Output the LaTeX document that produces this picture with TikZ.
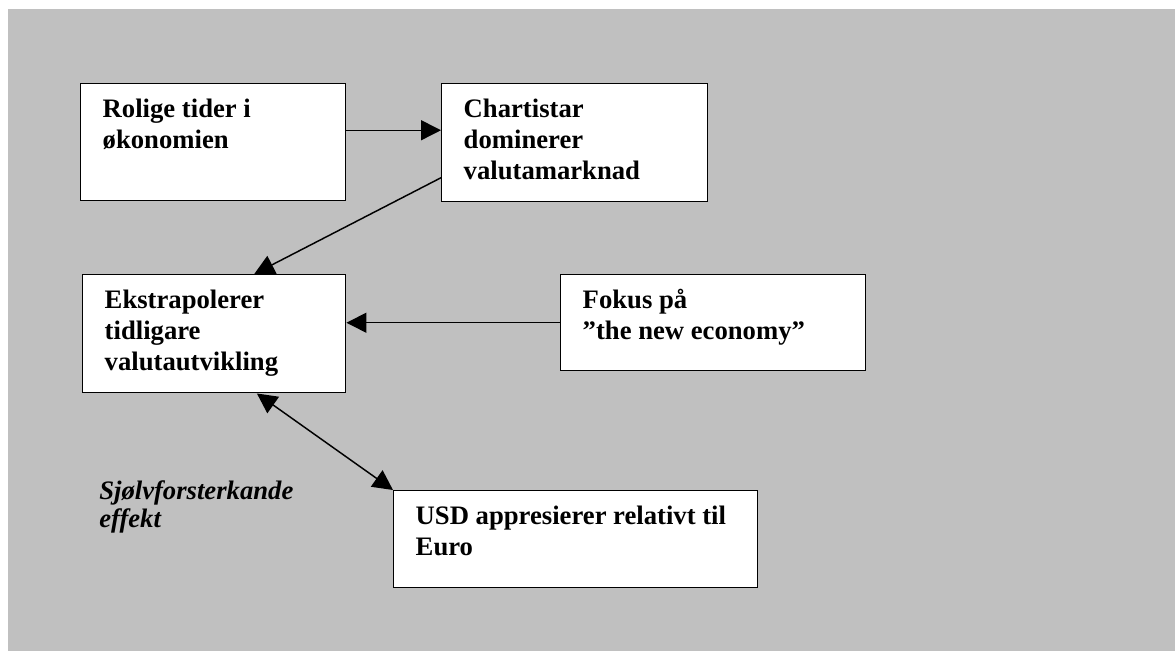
\documentclass[tikz,border=0pt]{standalone}
\usepackage{fontspec}
\setmainfont{Liberation Serif}
\usetikzlibrary{arrows.meta,calc}

\definecolor{bakgrunn}{HTML}{C0C0C0}

\begin{document}
\begin{tikzpicture}[x=0.75pt,y=-0.75pt,
  boks/.style={draw,fill=white,line width=1.1pt,anchor=north west,
    inner xsep=16.5pt,inner ysep=9pt,
    font=\bfseries\fontsize{20}{23.25}\selectfont},
  pil/.style={line width=1.1pt,-{Triangle[length=15pt,width=15pt]}},
  dobbelpil/.style={line width=1.1pt,{Triangle[length=15pt,width=15pt]}-{Triangle[length=15pt,width=15pt]}}]

  \useasboundingbox[fill=white] (0,0) rectangle (1175,651);

  % grey background
  \fill[bakgrunn] (8,9) rectangle (1175,651);

  % draw boxes
  \node[boks] (rolig) at (80,83)
    {\parbox[c][69.75pt][t]{165.75pt}{\raggedright\strut Rolige tider i\\ økonomien}};
  \node[boks] (chart) at (441,83)
    {\parbox[c][70.5pt][t]{166.5pt}{\raggedright\strut Chartistar\\ dominerer\\ valutamarknad}};
  \node[boks] (ekstra) at (82,274)
    {\parbox[c][70.5pt][t]{164.25pt}{\raggedright\strut Ekstrapolerer\\ tidligare\\ valutautvikling}};
  \node[boks] (fokus) at (560,274)
    {\parbox[c][54pt][t]{195.75pt}{\raggedright\strut Fokus på\\ ”the new economy”}};
  \node[boks] (usd) at (393,490)
    {\parbox[c][54.75pt][t]{240pt}{\raggedright\strut USD appresierer relativt til\\ Euro}};

  % effect label
  \node[anchor=base west,align=left,inner sep=0pt,
    font=\bfseries\itshape\fontsize{20}{21}\selectfont] (effekt) at (99,527)
    {Sjølvforsterkande\\ effekt};

  % draw arrows
  \draw[pil] ([yshift=9pt]rolig.east) -- ([yshift=9pt]rolig.east -| chart.west);
  \draw[pil] ([yshift=-26.25pt]chart.west) -- ([xshift=30pt]ekstra.north);
  \draw[pil] (fokus.west) -- (fokus.west -| ekstra.east);
  \draw[dobbelpil] ([xshift=32pt]ekstra.south) -- (usd.north west);

\end{tikzpicture}
\end{document}
